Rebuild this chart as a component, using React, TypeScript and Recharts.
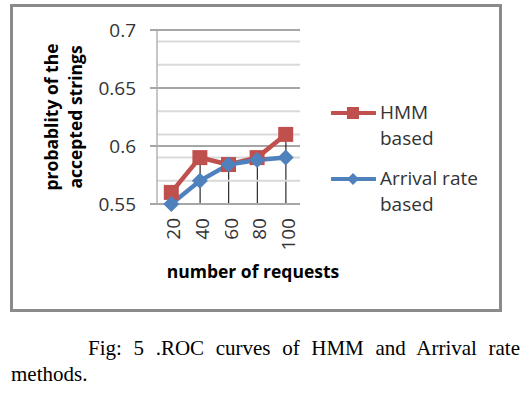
import React from "react"
import {
  ComposedChart,
  Line,
  Bar,
  XAxis,
  YAxis,
  CartesianGrid,
  ReferenceLine,
  Legend,
} from "recharts"

const categories = ["20", "40", "60", "80", "100"]
const hmmValues = [0.56, 0.59, 0.584, 0.59, 0.61]
const arrivalValues = [0.55, 0.57, 0.584, 0.588, 0.59]
const yTicks = [0.55, 0.6, 0.65, 0.7]
const minorGridValues = [0.57, 0.59, 0.61, 0.63, 0.67, 0.69]

const HMM_COLOR = "#c0504d"
const ARRIVAL_COLOR = "#4f81bd"
const SANS = "'Open Sans', 'Liberation Sans', sans-serif"

const data = categories.map((requests, i) => ({
  requests,
  hmm: hmmValues[i],
  arrival: arrivalValues[i],
  // drop line from the higher point down to the axis
  drop: Math.max(hmmValues[i], arrivalValues[i]),
}))

const series = [
  { key: "hmm", name: "HMM based", color: HMM_COLOR, marker: "square" },
  { key: "arrival", name: "Arrival rate based", color: ARRIVAL_COLOR, marker: "diamond" },
]

function SquareDot(props: any) {
  const { cx, cy, index } = props
  if (cx == null || cy == null) return null
  return <rect key={`sq-${index}`} x={cx - 7.5} y={cy - 7.5} width={15} height={15} fill={HMM_COLOR} />
}

function DiamondDot(props: any) {
  const { cx, cy, index } = props
  if (cx == null || cy == null) return null
  const r = 8
  return (
    <polygon
      key={`dm-${index}`}
      points={`${cx},${cy - r} ${cx + r},${cy} ${cx},${cy + r} ${cx - r},${cy}`}
      fill={ARRIVAL_COLOR}
    />
  )
}

function XTick(props: any) {
  const { x, y, payload } = props
  return (
    <text
      x={x + 2}
      y={y + 6}
      transform={`rotate(-90, ${x + 2}, ${y + 6})`}
      textAnchor="end"
      dominantBaseline="central"
      fontFamily={SANS}
      fontSize={19}
      fill="#333"
    >
      {payload.value}
    </text>
  )
}

function YTitle(props: any) {
  const { viewBox } = props
  const cy = viewBox.y + viewBox.height / 2
  const lines = ["probablity of the", "accepted strings"]
  return (
    <g>
      {lines.map((t, i) => {
        const bx = 58 + i * 24
        return (
          <text
            key={t}
            x={bx}
            y={cy}
            transform={`rotate(-90, ${bx}, ${cy})`}
            textAnchor="middle"
            fontFamily={SANS}
            fontWeight={700}
            fontSize={17.5}
            fill="#000"
          >
            {t}
          </text>
        )
      })}
    </g>
  )
}

function XTitle(props: any) {
  const { viewBox } = props
  return (
    <text
      x={viewBox.x + 96}
      y={viewBox.y + 74}
      textAnchor="middle"
      fontFamily={SANS}
      fontWeight={700}
      fontSize={17.5}
      fill="#000"
    >
      number of requests
    </text>
  )
}

function LegendIcon({ color, marker }: { color: string; marker: string }) {
  return (
    <svg width={45} height={16} style={{ display: "block" }}>
      <line x1={1} y1={8} x2={44} y2={8} stroke={color} strokeWidth={4} strokeLinecap="round" />
      {marker === "square" ? (
        <rect x={16} y={2} width={12} height={12} fill={color} />
      ) : (
        <polygon points="22,2 28,8 22,14 16,8" fill={color} />
      )}
    </svg>
  )
}

function ChartLegend() {
  return (
    <div style={{ fontFamily: SANS, fontSize: 19, color: "#333", lineHeight: "25.5px" }}>
      {series.map((s, i) => {
        const cut = s.name.lastIndexOf(" ")
        return (
          <div key={s.key} style={{ display: "flex", alignItems: "flex-start", marginTop: i === 0 ? 0 : 15 }}>
            <div style={{ width: 49, height: 25.5, display: "flex", alignItems: "center" }}>
              <LegendIcon color={s.color} marker={s.marker} />
            </div>
            <div style={{ whiteSpace: "nowrap" }}>
              <div>{s.name.slice(0, cut)}</div>
              <div>{s.name.slice(cut + 1)}</div>
            </div>
          </div>
        )
      })}
    </div>
  )
}

export default function App() {
  return (
    <div style={{ position: "absolute", left: 0, top: 0, width: 530, height: 395, background: "#fff" }}>
      <div
        style={{
          position: "absolute",
          left: 10,
          top: 4,
          width: 486,
          height: 302,
          border: "3px solid #8a8a8a",
        }}
      />
      <div style={{ position: "absolute", left: 0, top: 0 }}>
        <ComposedChart
          width={530}
          height={320}
          data={data}
          margin={{ top: 30, right: 230, bottom: 36, left: 0 }}
        >
          <CartesianGrid vertical={false} stroke="#a6a6a6" strokeWidth={2} />
          {minorGridValues.map((v) => (
            <ReferenceLine key={v} y={v} stroke="#d9d9d9" strokeWidth={2} />
          ))}
          <XAxis
            dataKey="requests"
            type="category"
            interval={0}
            height={80}
            tickLine={false}
            axisLine={{ stroke: "#a6a6a6", strokeWidth: 2 }}
            tick={<XTick />}
            label={<XTitle />}
          />
          <YAxis
            type="number"
            domain={[0.55, 0.7]}
            ticks={yTicks}
            width={157}
            tickSize={7}
            tickMargin={14}
            tickLine={{ stroke: "#a6a6a6", strokeWidth: 2 }}
            axisLine={{ stroke: "#b3b3b3", strokeWidth: 1.5 }}
            tick={{ fontFamily: SANS, fontSize: 19, fill: "#333" }}
            label={<YTitle />}
          />
          <Line
            dataKey="hmm"
            name="HMM based"
            type="linear"
            stroke={HMM_COLOR}
            strokeWidth={4.5}
            dot={<SquareDot />}
            activeDot={false}
            isAnimationActive={false}
          />
          <Line
            dataKey="arrival"
            name="Arrival rate based"
            type="linear"
            stroke={ARRIVAL_COLOR}
            strokeWidth={4.5}
            dot={<DiamondDot />}
            activeDot={false}
            isAnimationActive={false}
          />
          <Bar dataKey="drop" barSize={1} fill="#000" isAnimationActive={false} legendType="none" />
          <Legend
            layout="horizontal"
            verticalAlign="middle"
            align="center"
            wrapperStyle={{ left: 331, top: 100, width: 170 }}
            content={<ChartLegend />}
          />
        </ComposedChart>
      </div>
      <div
        style={{
          position: "absolute",
          left: 11,
          top: 335,
          width: 509,
          fontFamily: "'Liberation Serif', 'Times New Roman', serif",
          fontSize: 21,
          lineHeight: "26px",
          color: "#000",
        }}
      >
        <div style={{ paddingLeft: 77, textAlign: "justify", textAlignLast: "justify" }}>
          Fig: 5 .ROC curves of HMM and Arrival rate
        </div>
        <div>methods.</div>
      </div>
    </div>
  )
}
